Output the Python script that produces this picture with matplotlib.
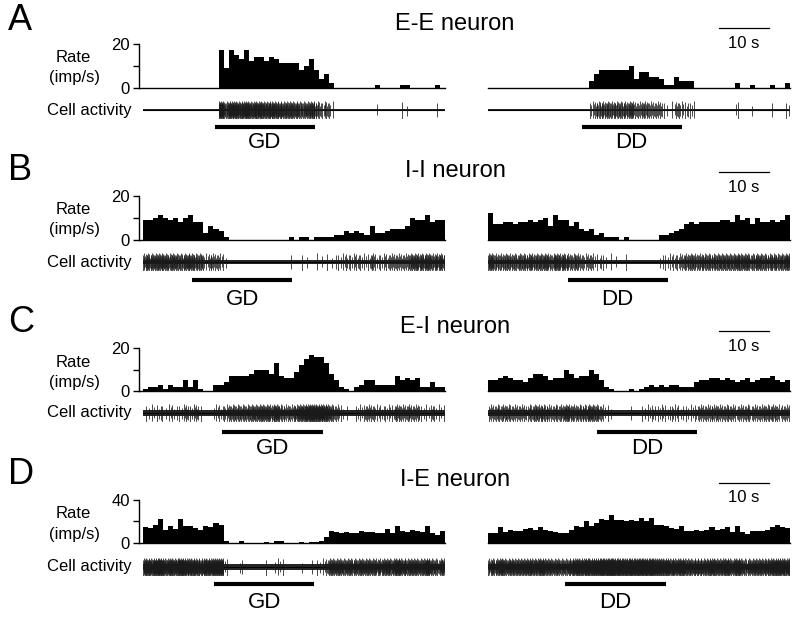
import numpy as np
import matplotlib
matplotlib.use("Agg")
import matplotlib.pyplot as plt
import matplotlib.transforms as mtransforms

plt.rcParams['font.family'] = ['Liberation Sans', 'DejaVu Sans']

# ---------------- data (1-s bins, 60 s windows) ----------------
time_edges = np.arange(0, 61, 1)

rate_A_GD = [0]*15 + [17, 9, 17, 15, 13, 17, 12, 14, 14, 12, 14, 13, 11, 11, 11, 11, 8, 10, 13, 8, 4, 6, 2] \
    + [0]*8 + [1] + [0]*4 + [1, 1] + [0]*5 + [1, 0]
rate_A_DD = [0]*20 + [3, 6, 8, 8, 8, 8, 8, 8, 10, 4, 7, 7, 5, 5, 4, 1, 1, 5, 3, 3, 3] \
    + [0]*8 + [2, 0, 0, 1, 0, 0, 0, 1, 0, 0, 2]

rate_B_GD = [9, 9, 10, 11, 10, 9, 10, 8, 10, 11, 8, 8, 3, 6, 5, 4, 1] + [0]*12 \
    + [1, 0, 1, 1, 0, 1, 1] \
    + [1, 1, 2, 2, 4, 3, 4, 3, 2, 6, 3, 3, 4, 5, 5, 5, 6, 10, 9, 9, 11, 8, 9, 9]
rate_B_DD = [12, 7, 7, 8, 8, 7, 8, 8, 9, 8, 9, 10, 6, 11, 9, 9, 6, 8, 5, 4,
             5, 2, 3, 1, 1, 1, 0, 1, 0, 0, 0, 0, 0, 0, 2, 2, 3, 4, 5, 7,
             8, 7, 8, 8, 8, 8, 9, 9, 8, 11, 9, 10, 7, 10, 8, 8, 9, 8, 9, 11]

rate_C_GD = [1, 2, 2, 3, 1, 3, 2, 2, 5, 2, 5, 1, 0, 0, 3, 3, 4, 7, 7, 7,
             7, 8, 10, 10, 10, 8, 13, 7, 6, 6, 9, 12, 15, 17, 16, 16, 13, 8, 5, 2,
             1, 0, 2, 3, 5, 5, 3, 3, 3, 3, 7, 5, 6, 5, 6, 2, 2, 4, 2, 2]
rate_C_DD = [5, 5, 6, 7, 6, 5, 5, 4, 6, 8, 8, 7, 5, 6, 6, 10, 8, 6, 7, 7,
             10, 8, 5, 2, 1, 0, 0, 0, 1, 0, 1, 2, 3, 2, 3, 2, 3, 3, 2, 2,
             2, 4, 5, 5, 6, 6, 5, 6, 5, 4, 5, 6, 4, 5, 6, 6, 7, 5, 4, 5]

rate_D_GD = [15, 14, 17, 22, 12, 16, 13, 22, 16, 16, 14, 12, 16, 15, 18, 17, 2,
             0, 0, 2, 0, 0, 0, 0, 1, 0, 2, 2, 0, 0, 0, 1, 0, 1, 1, 2,
             5, 11, 10, 9, 10, 9, 9, 11, 10, 10, 9, 9, 13, 9, 16, 11, 10, 12, 11, 10, 16, 9, 7, 11]
rate_D_DD = [9, 9, 15, 10, 12, 11, 11, 13, 14, 12, 15, 12, 11, 10, 9, 9, 12, 16, 15, 20,
             16, 18, 22, 21, 26, 21, 21, 20, 21, 20, 23, 20, 23, 17, 17, 16, 14, 13, 16, 11,
             11, 12, 11, 12, 15, 12, 13, 15, 10, 16, 10, 8, 11, 11, 11, 12, 15, 17, 15, 14]

# stimulus periods (s) : (start, end)
stim_GD = {'A': (14.3, 34.2), 'B': (9.8, 29.7), 'C': (15.6, 35.7), 'D': (14.2, 34.0)}
stim_DD = {'A': (18.6, 38.5), 'B': (15.8, 35.7), 'C': (21.6, 41.6), 'D': (15.3, 35.3)}

panel_letters = ['A', 'B', 'C', 'D']
panel_titles = ['E-E neuron', 'I-I neuron', 'E-I neuron', 'I-E neuron']
rate_max = {'A': 20, 'B': 20, 'C': 20, 'D': 40}
rates_GD = {'A': rate_A_GD, 'B': rate_B_GD, 'C': rate_C_GD, 'D': rate_D_GD}
rates_DD = {'A': rate_A_DD, 'B': rate_B_DD, 'C': rate_C_DD, 'D': rate_D_DD}
scale_bar_s = 10

# ---------------- layout (pixels, from top) ----------------
W, H = 800, 618
layout = {
    'A': dict(htop=43.5, hbot=87.5, cell=110, bar=127, lab=143, letter=20, title=24, sb=28, sbt=43, noise=0.10),
    'B': dict(htop=195.7, hbot=239.5, cell=262, bar=280, lab=299, letter=171, title=171, sb=172, sbt=188, noise=0.18),
    'C': dict(htop=348.3, hbot=391, cell=413, bar=431.7, lab=448, letter=322, title=327, sb=330.7, sbt=346.7, noise=0.28),
    'D': dict(htop=500, hbot=542.7, cell=567, bar=584.3, lab=602, letter=474, title=480, sb=482.7, sbt=498, noise=0.35),
}
PX_PER_S = 302 / 60.0
LEFT_X0, RIGHT_X0 = 143, 488

fig = plt.figure(figsize=(W / 100, H / 100), dpi=100)


def fx(x):
    return x / W


def fy(y):
    return 1 - y / H


def add_ax(x0, x1, ytop, ybot):
    return fig.add_axes([fx(x0), fy(ybot), (x1 - x0) / W, (ybot - ytop) / H])


up_pat = [0.8, 0.55, 0.95, 0.65, 0.85, 0.5, 0.75]
dn_pat = [-1.0, -0.7, -0.9, -0.55, -0.95, -0.65, -0.8]


def spike_train(rates):
    ts, ups, dns = [], [], []
    j = 0
    for i, c in enumerate(rates):
        c = int(round(c))
        for k in range(c):
            ts.append(i + (k + 0.5) / c)
            ups.append(up_pat[j % len(up_pat)])
            dns.append(dn_pat[j % len(dn_pat)])
            j += 1
    return ts, ups, dns


for p, title in zip(panel_letters, panel_titles):
    L = layout[p]
    ymax = rate_max[p]
    for side, rates, stim, lab in [('left', rates_GD[p], stim_GD[p], 'GD'),
                                   ('right', rates_DD[p], stim_DD[p], 'DD')]:
        x0 = LEFT_X0 if side == 'left' else RIGHT_X0
        # histogram
        if side == 'left':
            ax = add_ax(x0 - 4, x0 + 302, L['htop'], L['hbot'])
            ax.set_xlim(-4 / PX_PER_S, 60)
        else:
            ax = add_ax(x0, x0 + 302, L['htop'], L['hbot'])
            ax.set_xlim(0, 60)
        ax.stairs(rates, time_edges, fill=True, color='black', linewidth=0)
        ax.set_ylim(0, ymax)
        ax.patch.set_alpha(0)
        for s in ['top', 'right']:
            ax.spines[s].set_visible(False)
        ax.spines['bottom'].set_linewidth(1.0)
        ax.set_xticks([])
        if side == 'left':
            ax.spines['left'].set_linewidth(1.0)
            ax.set_yticks([0, ymax / 2, ymax])
            ax.set_yticklabels([0, '', ymax])
            ax.tick_params(axis='y', length=4.5, width=1.0, labelsize=12, pad=2)
        else:
            ax.spines['left'].set_visible(False)
            ax.set_yticks([])
            # scale bar
            bt = mtransforms.blended_transform_factory(ax.transData, fig.transFigure)
            sb0 = (719 - RIGHT_X0) / PX_PER_S
            ax.plot([sb0, sb0 + scale_bar_s], [fy(L['sb'])] * 2, color='black', lw=0.9,
                    transform=bt, clip_on=False)
            ax.text(sb0 + scale_bar_s / 2, fy(L['sbt']), '%d s' % scale_bar_s, transform=bt,
                    ha='center', va='center', fontsize=12)

        # cell activity
        cax = add_ax(x0, x0 + 302, L['cell'] - 9, L['cell'] + 9)
        cax.set_xlim(0, 60)
        cax.set_ylim(-1, 1)
        cax.axis('off')
        n = L['noise']
        cax.fill_between([0, 60], [-n, -n], [n, n], color='0.15', linewidth=0)
        cax.plot([0, 60], [0, 0], color='black', lw=0.8)
        ts, ups, dns = spike_train(rates)
        cax.vlines(ts, dns, ups, color='0.1', linewidth=0.55)

        # stimulus bar + label
        bt = mtransforms.blended_transform_factory(cax.transData, fig.transFigure)
        cax.plot([stim[0], stim[1]], [fy(L['bar'])] * 2, color='black', lw=3.0,
                 solid_capstyle='butt', transform=bt, clip_on=False)
        cax.text((stim[0] + stim[1]) / 2, fy(L['lab']), lab, transform=bt,
                 ha='center', va='center', fontsize=16)

    # labels
    fig.text(fx(8), fy(L['letter']), p, fontsize=26, ha='left', va='center')
    fig.text(fx(455), fy(L['title']), title, fontsize=17, ha='center', va='center')
    fig.text(fx(73), fy(L['htop'] + 14), 'Rate', fontsize=12, ha='center', va='center')
    fig.text(fx(74), fy(L['htop'] + 34), '(imp/s)', fontsize=12, ha='center', va='center')
    fig.text(fx(132), fy(L['cell']), 'Cell activity', fontsize=12, ha='right', va='center')

fig.savefig('out.png', dpi=100)
